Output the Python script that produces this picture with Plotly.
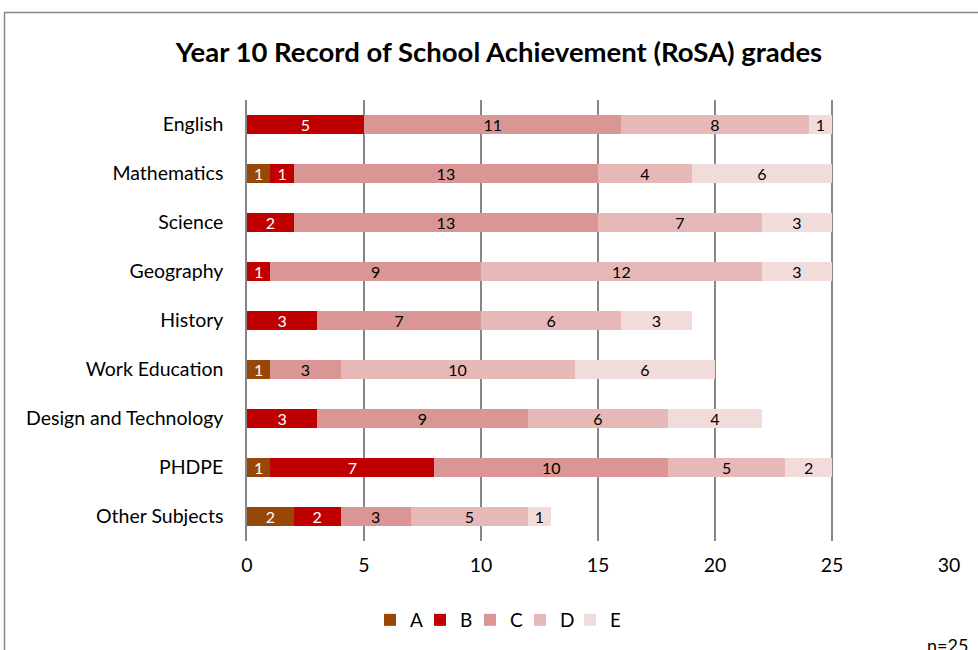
import plotly.graph_objects as go

subjects = [
    "English",
    "Mathematics",
    "Science",
    "Geography",
    "History",
    "Work Education",
    "Design and Technology",
    "PHDPE",
    "Other Subjects",
]
grades = ["A", "B", "C", "D", "E"]
grade_a = [0, 1, 0, 0, 0, 1, 0, 1, 2]
grade_b = [5, 1, 2, 1, 3, 0, 3, 7, 2]
grade_c = [11, 13, 13, 9, 7, 3, 9, 10, 3]
grade_d = [8, 4, 7, 12, 6, 10, 6, 5, 5]
grade_e = [1, 6, 3, 3, 3, 6, 4, 2, 1]

colors = ["#974706", "#C00000", "#DA9694", "#E6B8B7", "#F2DCDB"]
text_colors = ["white", "white", "black", "black", "black"]
font = "Lato, 'Open Sans', sans-serif"

fig = go.Figure()
for name, vals, col, tcol in zip(
    grades, [grade_a, grade_b, grade_c, grade_d, grade_e], colors, text_colors
):
    fig.add_trace(
        go.Bar(
            y=subjects,
            x=vals,
            name=name,
            orientation="h",
            marker=dict(color=col, line=dict(width=0)),
            text=[str(v) if v else "" for v in vals],
            textposition="inside",
            insidetextanchor="middle",
            textangle=0,
            constraintext="none",
            textfont=dict(color=tcol, size=16, family=font),
            width=0.4,
        )
    )

# outer chart border (clipped on right and bottom like the source image)
fig.add_shape(
    type="rect",
    xref="paper",
    yref="paper",
    x0=(4.5 - 247) / 702,
    x1=(990 - 247) / 702,
    y0=(541 - 660) / 441,
    y1=(541 - 12.5) / 441,
    line=dict(color="#868686", width=1.5),
    layer="below",
)

fig.add_annotation(
    text="n=25",
    xref="paper",
    yref="paper",
    x=(947 - 247) / 702,
    xanchor="center",
    y=(541 - 645) / 441,
    yanchor="middle",
    showarrow=False,
    font=dict(size=18, family=font, color="black"),
)

fig.update_layout(
    barmode="stack",
    width=978,
    height=650,
    margin=dict(l=247, r=29, t=100, b=109, autoexpand=False),
    paper_bgcolor="white",
    plot_bgcolor="white",
    font=dict(family=font, color="black"),
    title=dict(
        text="<b>Year 10 Record of School Achievement (RoSA) grades</b>",
        x=499 / 978,
        xanchor="center",
        y=1 - 52 / 650,
        yanchor="middle",
        font=dict(size=27.5, family=font, color="black"),
    ),
    xaxis=dict(
        range=[0, 30],
        dtick=5,
        showgrid=True,
        gridcolor="#868686",
        gridwidth=1.5,
        zeroline=False,
        showline=False,
        tickfont=dict(size=19.5, family=font),
        ticks="",
        ticklabelstandoff=10,
        automargin=False,
    ),
    yaxis=dict(
        categoryorder="array",
        categoryarray=subjects[::-1],
        showgrid=False,
        showline=True,
        linecolor="#868686",
        linewidth=1.5,
        ticks="",
        tickfont=dict(size=19.5, family=font),
        ticklabelstandoff=18,
        automargin=False,
    ),
    legend=dict(
        orientation="h",
        x=(495 - 247) / 702,
        xanchor="center",
        y=(541 - 620) / 441,
        yanchor="middle",
        font=dict(size=19, family=font),
        entrywidth=5,
        entrywidthmode="pixels",
        itemwidth=30,
        traceorder="normal",
    ),
    bargap=0.6,
)

fig.write_html(
    "out.html",
    config={"displayModeBar": False},
    post_script="document.body.style.margin='0';",
)
